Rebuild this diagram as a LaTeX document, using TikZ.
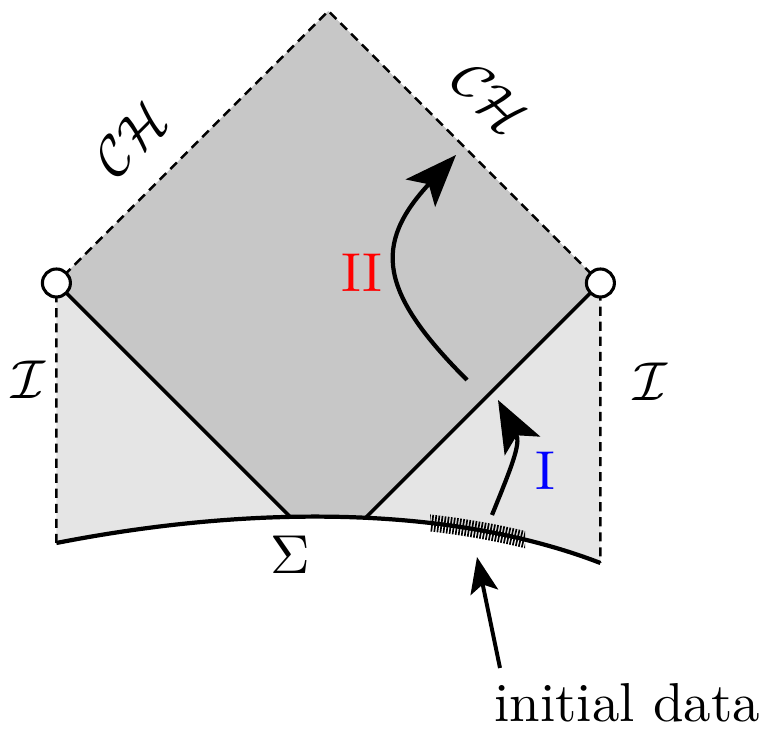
\documentclass[tikz,border=0pt]{standalone}
\usepackage{fix-cm}
\usepackage{xcolor}
\usepackage{tikz}
\usetikzlibrary{arrows.meta,decorations.pathreplacing}

\begin{document}
\begin{tikzpicture}[
  big/.style={scale=3.9, inner sep=0pt},
  nullinf/.style={draw=black, line width=1.8pt, dash pattern=on 6.5pt off 4.2pt},
  horizon/.style={draw=black, line width=2.5pt},
  slice/.style={draw=black, line width=3pt},
  pole/.style={circle, draw=black, fill=white, line width=2.2pt,
    minimum size=0.7cm, inner sep=0pt},
  evolve/.style={-{Stealth[length=13mm, width=10mm, inset=3mm]}, line width=3pt},
  pointer/.style={-{Stealth[length=9mm, width=7mm, inset=2mm]}, line width=2.8pt},
  hatch/.style={decorate, decoration={ticks, segment length=2.2pt, amplitude=6pt},
    line width=1.2pt}
]
\useasboundingbox (0,0) rectangle (19.2,18.225);
\coordinate (T) at (8.21,17.95);
\coordinate (Lp) at (1.41,11.15);
\coordinate (Rp) at (15.01,11.15);
\coordinate (Lb) at (1.41,4.65);
\coordinate (Rb) at (15.01,4.15);
\coordinate (X) at (8.21,4.35);

\fill[black!10] (Lb) .. controls (6.25,5.6) and (11.25,5.6) .. (Rb) -- (Rp) -- (T) -- (Lp) -- cycle;
\begin{scope}
  \clip (Lb) .. controls (6.25,5.6) and (11.25,5.6) .. (Rb) -- (Rp) -- (T) -- (Lp) -- cycle;
  \fill[black!22] (Lp) -- (T) -- (Rp) -- (X) -- cycle;
  \draw[horizon] (Lp) -- (X) (Rp) -- (X);
\end{scope}

\draw[nullinf] (Lb) -- (Lp) -- (T) -- (Rp) -- (Rb);
\draw[slice] (Lb) .. controls (6.25,5.6) and (11.25,5.6) .. (Rb);
\begin{scope}
  \clip (10.75,0) rectangle (13.125,8);
  \draw[hatch] (Lb) .. controls (6.25,5.6) and (11.25,5.6) .. (Rb);
\end{scope}

\node[pole] (spL) at (Lp) {};
\node[pole] (spR) at (Rp) {};

\node[big, rotate=45] (chL) at (3.275,14.75) {$\mathcal{CH}$};
\node[big, rotate=-45] (chR) at (12.25,15.775) {$\mathcal{CH}$};
\node[big] (scriL) at (0.7,8.725) {$\mathcal{I}$};
\node[big] (scriR) at (16.25,8.675) {$\mathcal{I}$};
\node[big] (sigma) at (7.25,4.35) {$\Sigma$};
\node[big, text=red] (regII) at (9.05,11.4) {II};
\node[big, text=blue] (regI) at (13.625,6.45) {I};
\node[big, anchor=base] (data) at (15.68,0.175) {initial data};

\coordinate (IIs) at (11.675,8.725);
\coordinate (IIe) at (11.4,14.35);
\coordinate (Is) at (12.3,5.35);
\coordinate (Ie) at (12.45,8.225);
\coordinate (Ds) at (12.5,1.525);
\coordinate (De) at (11.925,4.3);

\draw[evolve] (IIs) to[out=135, in=-133, looseness=1.4] (IIe);
\draw[evolve] (Is) to[out=68, in=-62, looseness=1.1] (Ie);
\draw[pointer] (Ds) -- (De);
\end{tikzpicture}
\end{document}
